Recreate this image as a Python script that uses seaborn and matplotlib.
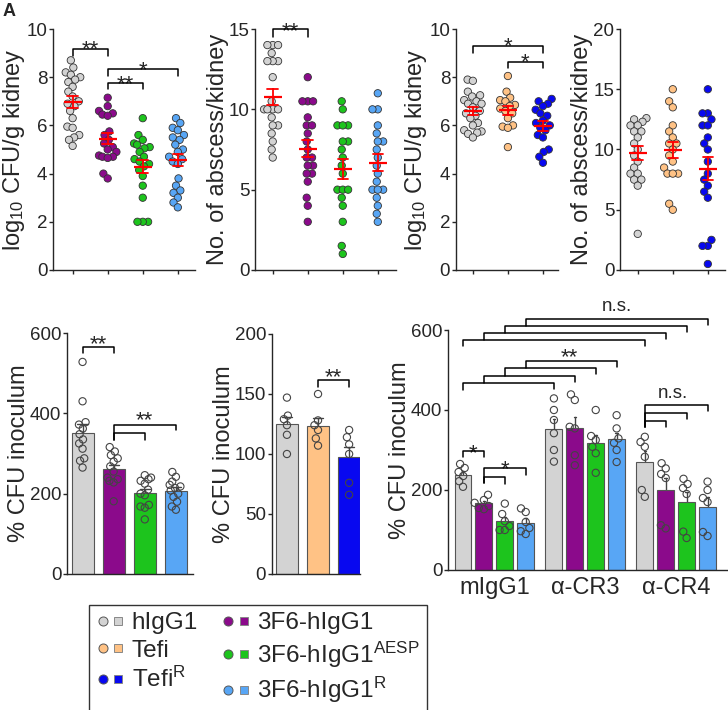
import numpy as np
import pandas as pd
import matplotlib
matplotlib.use("Agg")
import matplotlib.pyplot as plt
from matplotlib.lines import Line2D
from matplotlib.legend_handler import HandlerTuple
import seaborn as sns

# ---- groups / colours ----
mab_groups = ["hIgG1", "3F6-hIgG1", "3F6-hIgG1AESP", "3F6-hIgG1R"]
tefi_groups = ["hIgG1", "Tefi", "TefiR"]
cr_groups = ["mIgG1", "\u03b1-CR3", "\u03b1-CR4"]

GREY = "#d3d3d3"
PURPLE = "#8b0a8b"
GREEN = "#1dc41d"
LBLUE = "#58a6f5"
ORANGE = "#ffc285"
DBLUE = "#0808f0"
mab_colors = [GREY, PURPLE, GREEN, LBLUE]
tefi_colors = [GREY, ORANGE, DBLUE]

# ---- A: log10 CFU/g kidney (mAb) ----
a_hig = [8.7, 8.4, 8.2, 8.1, 8.0, 7.9, 7.8, 7.6, 7.4, 7.2, 7.0, 6.9, 6.8, 6.6, 6.3, 5.95, 5.9, 5.6, 5.5, 5.4, 5.15]
a_3f6 = [7.15, 6.8, 6.6, 6.5, 6.45, 6.4, 5.75, 5.6, 5.4, 5.25, 5.1, 5.0, 4.9, 4.75, 4.7, 4.7, 4.65, 4.0, 3.8]
a_aesp = [6.3, 5.6, 5.4, 5.25, 5.2, 5.1, 5.05, 4.9, 4.7, 4.6, 4.5, 4.4, 4.3, 4.15, 3.9, 3.5, 3.0, 2.0, 2.0, 2.0]
a_r = [6.3, 6.1, 5.9, 5.8, 5.6, 5.5, 5.4, 5.2, 5.0, 4.9, 4.7, 4.6, 4.5, 4.4, 3.8, 3.5, 3.3, 3.2, 3.0, 2.8, 2.6]

# ---- B: abscesses/kidney (mAb) ----
b_hig = [14, 14, 14, 13.5, 13, 13, 13, 12, 10.5, 10, 10, 10, 10, 9.5, 9, 9, 8.5, 8, 7.5, 7]
b_3f6 = [12, 10.5, 10.5, 10.5, 9.5, 9, 9, 8.5, 8, 7.5, 7, 7, 6.5, 6.5, 6, 6, 5.5, 4.5, 4, 3]
b_aesp = [10.5, 10, 9, 9, 9, 8, 8, 7.5, 7, 6.5, 6, 5, 5, 5, 4.5, 4, 3, 1.5, 1]
b_r = [11, 10, 10, 9, 8.5, 8, 8, 7.5, 7, 6.5, 6, 5.5, 5, 5, 5, 4.5, 4, 3.5, 3]

# ---- C: log10 CFU/g kidney (Tefi) ----
c_hig = [7.9, 7.85, 7.4, 7.25, 7.2, 7.05, 7.0, 6.9, 6.9, 6.75, 6.6, 6.5, 6.4, 6.3, 6.1, 6.0, 5.8, 5.75, 5.7, 5.65, 5.5]
c_tefi = [8.05, 7.4, 7.15, 7.05, 7.0, 6.85, 6.8, 6.7, 6.6, 6.5, 6.3, 6.0, 5.95, 5.9, 5.1]
c_tefir = [7.1, 7.0, 6.9, 6.8, 6.65, 6.5, 6.4, 6.2, 6.1, 6.0, 5.9, 5.8, 5.6, 5.5, 5.0, 4.9, 4.7, 4.45]

# ---- D: abscesses/kidney (Tefi) ----
d_hig = [12.6, 12.5, 12.3, 12, 12, 11.5, 11.5, 11, 10.5, 10, 9.5, 9, 8.5, 8, 8, 7.5, 7.5, 7, 3]
d_tefi = [15, 14, 13.5, 12, 11.5, 11, 10.5, 10.5, 10, 9.5, 9, 8.5, 8, 8, 8, 5.5, 5]
d_tefir = [15, 13, 13, 12.5, 12, 12, 11, 10.5, 10, 9, 8, 7.5, 7, 6.5, 6, 2.5, 2, 2, 0.5]

# ---- E: % CFU inoculum (mAb) ----
e_hig = [528, 430, 378, 372, 362, 348, 335, 325, 312, 288, 282, 265]
e_3f6 = [316, 305, 296, 288, 280, 268, 255, 240, 236, 232, 228, 181]
e_aesp = [246, 240, 236, 232, 225, 210, 200, 196, 172, 168, 165, 136]
e_r = [254, 242, 230, 222, 218, 214, 208, 200, 192, 180, 168, 160]

# ---- F: % CFU inoculum (Tefi) ----
f_hig = [147, 132, 129, 124, 116, 100]
f_tefi = [150, 128, 124, 120, 113, 107]
f_tefir = [120, 114, 108, 100, 76, 66]

# ---- G: % CFU inoculum with receptor blockade ----
g_mig = [[265, 255, 245, 235, 222, 208], [188, 175, 168, 160, 155, 152],
         [166, 140, 122, 110, 100, 100], [154, 145, 120, 105, 97, 90]]
g_cr3 = [[429, 400, 375, 342, 300, 271], [439, 425, 358, 354, 287, 262],
         [400, 335, 325, 308, 292, 243], [387, 354, 329, 318, 300, 270]]
g_cr4 = [[333, 320, 308, 283, 200, 183], [267, 254, 240, 230, 112, 104],
         [228, 215, 205, 190, 96, 80], [221, 200, 180, 170, 95, 85]]

legend_labels = ["hIgG1", "Tefi", "Tefi$^{R}$",
                 "3F6-hIgG1", "3F6-hIgG1$^{AESP}$", "3F6-hIgG1$^{R}$"]
legend_colors = [GREY, ORANGE, DBLUE, PURPLE, GREEN, LBLUE]

sns.set_style("ticks")
plt.rcParams["font.family"] = ["Liberation Sans", "DejaVu Sans"]
plt.rcParams["mathtext.default"] = "regular"
plt.rcParams["axes.linewidth"] = 1.0

TICK = 13.5
LAB = 17
STAR = 16

# swarm collections to tighten after seaborn has laid them out
pending = []


def long_df(groups, series):
    rows = [(g, v) for g, vals in zip(groups, series) for v in vals]
    return pd.DataFrame(rows, columns=["group", "value"])


def squeeze(colls, spread, slot_w=None, n_hue=None):
    # pull swarm points closer together (GraphPad-like overlap)
    for c in colls:
        if "draw" in c.__dict__:
            del c.draw          # freeze seaborn's beeswarm layout
        off = c.get_offsets()
        if not len(off):
            continue
        ctr = np.round(off[:, 0])
        if n_hue:
            step = 0.8 / n_hue
            idx = np.round((np.mean(off[:, 0] - ctr) + 0.4 - step / 2) / step)
            base = ctr + idx * step - 0.4 + step / 2
            new_base = ctr + (idx - (n_hue - 1) / 2) * slot_w
        else:
            base = ctr
            new_base = ctr
        off[:, 0] = new_base + (off[:, 0] - base) * spread
        c.set_offsets(off)


def style_axis(ax, ymax, step, ylabel, xlim):
    sns.despine(ax=ax)
    ax.set_ylim(0, ymax)
    ax.set_yticks(np.arange(0, ymax + step / 2, step))
    ax.set_xlim(*xlim)
    ax.set_xlabel("")
    ax.set_ylabel(ylabel, fontsize=LAB, labelpad=0)
    ax.tick_params(labelsize=TICK, length=3, width=1, pad=1)


def bracket(ax, x1, x2, y, dl, dr):
    ax.plot([x1, x1, x2, x2], [y - dl, y, y, y - dr], color="black", lw=1.1,
            clip_on=False, zorder=7)


def star(ax, x, y, s, size=STAR):
    # y is the visual centre of the asterisks
    ax.annotate(s, (x, y), xytext=(0, -0.575 * size), textcoords="offset points",
                ha="center", va="baseline", fontsize=size, annotation_clip=False)


def ns(ax, x, y):
    ax.annotate("n.s.", (x, y), xytext=(0, -3.5), textcoords="offset points",
                ha="center", va="baseline", fontsize=13.5, annotation_clip=False)


def dot_panel(ax, groups, series, colors, ymax, step, ylabel, xlim):
    df = long_df(groups, series)
    n = len(ax.collections)
    sns.swarmplot(data=df, x="group", y="value", hue="group", order=groups,
                  hue_order=groups, palette=colors, size=5.3, edgecolor="#333333",
                  linewidth=0.6, legend=False, ax=ax)
    pending.append((ax.collections[n:], 0.62, None, None))
    sns.pointplot(data=df, x="group", y="value", order=groups, errorbar="se",
                  color="red", marker="_", markersize=13, markeredgewidth=1.6,
                  linestyle="none", capsize=0.3,
                  err_kws={"linewidth": 1.3, "zorder": 6}, zorder=6, ax=ax)
    style_axis(ax, ymax, step, ylabel, xlim)
    ax.tick_params(axis="x", labelbottom=False)


def bar_panel(ax, groups, series, colors, ymax, step, ylabel, xlim):
    df = long_df(groups, series)
    sns.barplot(data=df, x="group", y="value", hue="group", order=groups,
                hue_order=groups, palette=colors, errorbar="se", capsize=0.33,
                width=0.71, edgecolor="#555555", linewidth=0.8, saturation=1,
                err_kws={"color": "#444444", "linewidth": 1.0, "zorder": 0.5},
                legend=False, ax=ax)
    n = len(ax.collections)
    sns.swarmplot(data=df, x="group", y="value", order=groups, color="white",
                  size=5.2, edgecolor="#444444", linewidth=0.8, ax=ax)
    for c in ax.collections[n:]:
        c.set_facecolor("none")
    pending.append((ax.collections[n:], 0.5, None, None))
    style_axis(ax, ymax, step, ylabel, xlim)
    ax.set_xticks([])


fig = plt.figure(figsize=(7.28, 7.10), dpi=100)
W, H = 728, 710


def add_ax(x0, x1, ytop, ybot):
    return fig.add_axes([x0 / W, 1 - ybot / H, (x1 - x0) / W, (ybot - ytop) / H])


log_lab = "log$_{10}$ CFU/g kidney"
abs_lab = "No. of abscess/kidney"
cfu_lab = "% CFU inoculum"

# A
ax = add_ax(53, 195, 29, 270)
dot_panel(ax, mab_groups, [a_hig, a_3f6, a_aesp, a_r], mab_colors, 10, 2, log_lab, (-0.56, 3.49))
bracket(ax, 0, 1, 9.16, 0.28, 0.28)
star(ax, 0.5, 9.43, "**")
bracket(ax, 1, 3, 8.33, 0.28, 0.28)
star(ax, 2, 8.58, "*")
bracket(ax, 1, 2, 7.77, 0.27, 0.27)
star(ax, 1.5, 8.0, "**")

# B
ax = add_ax(255, 396, 29, 270)
dot_panel(ax, mab_groups, [b_hig, b_3f6, b_aesp, b_r], mab_colors, 15, 5, abs_lab, (-0.506, 3.52))
bracket(ax, 0, 1, 14.98, 0.46, 0.46)
star(ax, 0.5, 15.3, "**")

# C
ax = add_ax(455.7, 558, 29, 270)
dot_panel(ax, tefi_groups, [c_hig, c_tefi, c_tefir], tefi_colors, 10, 2, log_lab, (-0.49, 2.43))
bracket(ax, 0, 2, 9.29, 0.27, 0.27)
star(ax, 1.0, 9.57, "*")
bracket(ax, 1, 2, 8.64, 0.27, 0.27)
star(ax, 1.5, 8.9, "*")

# D
ax = add_ax(620, 725, 29, 270)
dot_panel(ax, tefi_groups, [d_hig, d_tefi, d_tefir], tefi_colors, 20, 5, abs_lab, (-0.506, 2.49))

# E
ax = add_ax(67, 193, 333, 574)
bar_panel(ax, mab_groups, [e_hig, e_3f6, e_aesp, e_r], mab_colors, 600, 200, cfu_lab, (-0.5, 3.55))
bracket(ax, 0, 1, 566, 15, 15)
star(ax, 0.5, 589, "**")
bracket(ax, 1, 3, 372, 39, 14)
bracket(ax, 1, 2, 350, 17, 17)
star(ax, 2.0, 399, "**")

# F
ax = add_ax(271.7, 360, 334, 574)
bar_panel(ax, tefi_groups, [f_hig, f_tefi, f_tefir], tefi_colors, 200, 50, cfu_lab, (-0.49, 2.35))
bracket(ax, 1, 2, 162, 6, 6)
star(ax, 1.5, 170, "**")

# G
ax = add_ax(448, 728, 330, 570)
rows = []
for cond, block in zip(cr_groups, [g_mig, g_cr3, g_cr4]):
    for grp, vals in zip(mab_groups, block):
        rows += [(cond, grp, v) for v in vals]
g_df = pd.DataFrame(rows, columns=["cond", "group", "value"])
sns.barplot(data=g_df, x="cond", y="value", hue="group", order=cr_groups,
            hue_order=mab_groups, palette=mab_colors, errorbar="se", capsize=0.11,
            width=0.92, gap=0.19, edgecolor="#555555", linewidth=0.8, saturation=1,
            err_kws={"color": "#444444", "linewidth": 1.0, "zorder": 0.5},
            legend=False, ax=ax)
n = len(ax.collections)
sns.swarmplot(data=g_df, x="cond", y="value", hue="group", order=cr_groups,
              hue_order=mab_groups, palette=["white"] * 4, dodge=True, size=5.2,
              edgecolor="#444444", linewidth=0.8, legend=False, ax=ax)
for c in ax.collections[n:]:
    c.set_facecolor("none")
pending.append((ax.collections[n:], 0.6, 0.23, 4))
style_axis(ax, 600, 200, cfu_lab, (-0.51, 2.57))
ax.tick_params(axis="x", length=0, labelsize=17, pad=5)

offs = [-0.345, -0.115, 0.115, 0.345]
bracket(ax, offs[0], offs[1], 297, 15, 15)
star(ax, -0.23, 310, "*")
bracket(ax, offs[1], offs[3], 255, 38, 17)
bracket(ax, offs[1], offs[2], 232, 15, 17)
star(ax, 0.115, 268, "*")
lv = [467, 485, 505, 522]
for k in range(4):
    bracket(ax, offs[k], 1 + offs[k], lv[k], 17 if k == 0 else lv[k] - lv[k - 1], 15)
star(ax, 0.83, 550, "**")
lv = [575, 592, 610, 628]
for k in range(4):
    bracket(ax, offs[k], 2 + offs[k], lv[k], 15 if k == 0 else lv[k] - lv[k - 1], 15)
ns(ax, 1.35, 660)
for k, y in zip([1, 2, 3], [372, 392, 412]):
    bracket(ax, 2 + offs[0], 2 + offs[k], y, y - 357, 15)
ns(ax, 1.96, 442)

# legend
handles = []
for col in legend_colors:
    circ = Line2D([], [], marker="o", linestyle="none", markersize=6.5,
                  markerfacecolor=col, markeredgecolor="#555555", markeredgewidth=0.7)
    sq = Line2D([], [], marker="s", linestyle="none", markersize=5.5,
                markerfacecolor=col, markeredgecolor="#888888", markeredgewidth=0.7)
    handles.append((circ, sq))
leg = fig.legend(handles, legend_labels, handler_map={tuple: HandlerTuple(ndivide=None, pad=0.1)},
                 ncol=2, loc="upper left", bbox_to_anchor=(89 / W, 1 - 605 / H),
                 frameon=True, fancybox=False, edgecolor="black", fontsize=17.5,
                 handlelength=1.15, handletextpad=0.3, columnspacing=1.0,
                 labelspacing=0.22, borderpad=0.3, borderaxespad=0)
leg.get_frame().set_linewidth(1.0)

fig.text(0.004, 0.996, "A", fontsize=13, fontweight="bold", va="top", ha="left")

# let seaborn lay out the swarms once, then tighten them
fig.canvas.draw()
for colls, spread, slot_w, n_hue in pending:
    squeeze(colls, spread, slot_w, n_hue)

fig.savefig("out.png", dpi=100)
